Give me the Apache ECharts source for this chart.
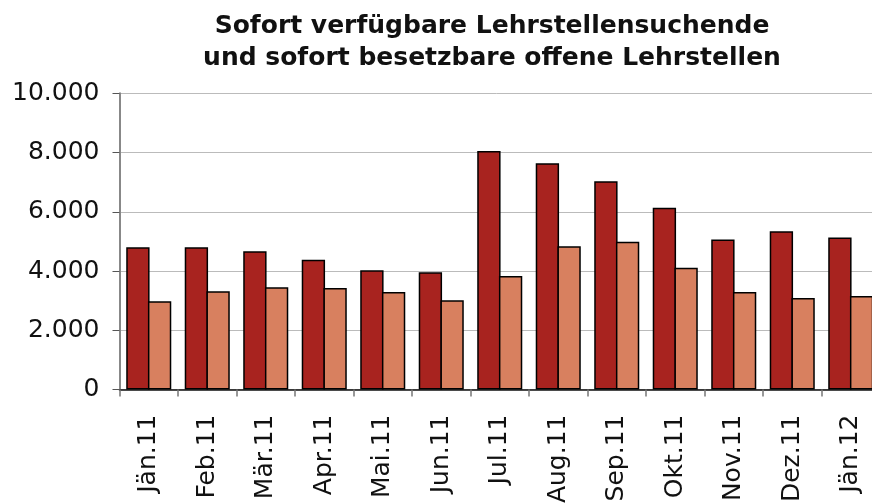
<!DOCTYPE html>
<html>
<head>
<meta charset="utf-8">
<script src="https://cdn.jsdelivr.net/npm/echarts@6/dist/echarts.min.js"></script>
<style>
html,body{margin:0;padding:0;background:#fff;}
#chart{width:872px;height:503px;}
</style>
</head>
<body>
<div id="chart"></div>
<script>
const categories = ["Jän.11","Feb.11","Mär.11","Apr.11","Mai.11","Jun.11","Jul.11","Aug.11","Sep.11","Okt.11","Nov.11","Dez.11","Jän.12"];
const suchende = [4800, 4800, 4670, 4380, 4030, 3960, 8050, 7640, 7030, 6140, 5060, 5340, 5130];
const offeneStellen = [2980, 3320, 3450, 3430, 3290, 3010, 3830, 4840, 4990, 4110, 3290, 3090, 3160];
const titleText = "Sofort verfügbare Lehrstellensuchende\nund sofort besetzbare offene Lehrstellen";

const chart = echarts.init(document.getElementById('chart'));
const fmt = v => v === 0 ? '0' : String(v).replace(/\B(?=(\d{3})+(?!\d))/g, '.');
chart.setOption({
  animation: false,
  backgroundColor: '#ffffff',
  title: {
    text: titleText,
    left: 487,
    textAlign: 'center',
    top: 5,
    textStyle: {fontFamily: 'DejaVu Sans', fontWeight: 'bold', fontSize: 25, lineHeight: 32, color: '#111'}
  },
  grid: {left: 119.5, right: -8, top: 93.3, bottom: 113.5, containLabel: false, outerBoundsMode: 'none'},
  xAxis: {
    type: 'category',
    data: categories,
    boundaryGap: true,
    axisLine: {lineStyle: {color: '#111', width: 1.5}},
    axisTick: {show: true, length: 7, lineStyle: {color: '#777', width: 1.5}},
    axisLabel: {rotate: 90, margin: 25, interval: 0, fontFamily: 'DejaVu Sans', fontSize: 25, color: '#111'}
  },
  yAxis: {
    type: 'value',
    min: 0, max: 10000, interval: 2000,
    axisLine: {show: true, lineStyle: {color: '#888', width: 2}},
    axisTick: {show: true, length: 7, lineStyle: {color: '#555', width: 1}},
    splitLine: {lineStyle: {color: '#bbbbbb', width: 1}},
    axisLabel: {margin: 20, fontFamily: 'DejaVu Sans', fontSize: 25, color: '#111', formatter: fmt}
  },
  series: [
    {type: 'bar', name: 'Lehrstellensuchende', data: suchende, barGap: '-7%', barCategoryGap: '23%',
     itemStyle: {color: '#A8231F', borderColor: '#000', borderWidth: 1.5}},
    {type: 'bar', name: 'offene Lehrstellen', data: offeneStellen, barGap: '-7%', barCategoryGap: '23%',
     itemStyle: {color: '#D8805F', borderColor: '#000', borderWidth: 1.5}}
  ]
});
</script>
</body>
</html>
